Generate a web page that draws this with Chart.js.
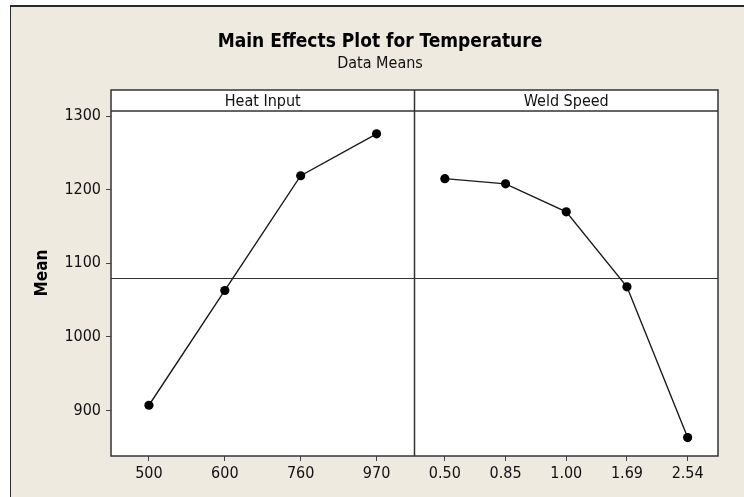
<!DOCTYPE html>
<html>
<head>
<meta charset="utf-8">
<script src="https://cdn.jsdelivr.net/npm/chart.js@4/dist/chart.umd.min.js"></script>
<style>
  html, body { margin: 0; padding: 0; background: #fff; }
  #frame {
    position: absolute; left: 10px; top: 5px; right: 0; bottom: 0;
    background: #eeeae0;
    border-top: 2px solid #2b2b2b;
    border-left: 1px solid #2b2b2b;
  }
  #wrap { position: absolute; left: 0; top: 0; width: 744px; height: 497px; }
</style>
</head>
<body>
<div id="frame"></div>
<div id="wrap"><canvas id="plot" width="744" height="497"></canvas></div>
<script>
const heatLevels = ['500', '600', '760', '970'];
const heatMeans = [907, 1063, 1219, 1276];
const speedLevels = ['0.50', '0.85', '1.00', '1.69', '2.54'];
const speedMeans = [1215, 1208, 1170, 1068, 863];
const panelTitles = ['Heat Input', 'Weld Speed'];
const yTicks = [900, 1000, 1100, 1200, 1300];
const grandMean = 1080;
const yLabel = 'Mean';

const FONT = "'DejaVu Sans Condensed', 'DejaVu Sans', sans-serif";
const STRIP = 21;

// panel frames, header strips, grand mean line and the y label
const panels = {
  id: 'panels',
  beforeDraw(chart) {
    const {ctx, chartArea: a} = chart;
    ctx.save();
    ctx.fillStyle = '#fff';
    ctx.fillRect(a.left, a.top - STRIP, a.right - a.left, a.bottom - a.top + STRIP);
    ctx.restore();
  },
  beforeDatasetsDraw(chart) {
    const {ctx, chartArea: a} = chart;
    const y = Math.round(chart.scales.y.getPixelForValue(grandMean)) + 0.5;
    ctx.save();
    ctx.strokeStyle = '#333';
    ctx.lineWidth = 1;
    ctx.beginPath();
    ctx.moveTo(a.left, y);
    ctx.lineTo(a.right, y);
    ctx.stroke();
    ctx.restore();
  },
  afterDatasetsDraw(chart) {
    const {ctx, chartArea: a} = chart;
    const xs = [chart.scales.xHeat, chart.scales.xSpeed];
    ctx.save();
    ctx.strokeStyle = '#333';
    ctx.lineWidth = 1.5;
    ctx.strokeRect(a.left, a.top - STRIP, a.right - a.left, a.bottom - a.top + STRIP);
    ctx.beginPath();
    ctx.moveTo(a.left, a.top);
    ctx.lineTo(a.right, a.top);
    ctx.moveTo(xs[1].left, a.top - STRIP);
    ctx.lineTo(xs[1].left, a.bottom);
    ctx.stroke();

    ctx.fillStyle = '#111';
    ctx.font = '16px ' + FONT;
    ctx.textAlign = 'center';
    ctx.textBaseline = 'middle';
    xs.forEach((s, i) => {
      ctx.fillText(panelTitles[i], (s.left + s.right) / 2, a.top - STRIP / 2 + 1);
    });

    // y label centred on the panel including its strip
    ctx.font = 'bold 17px ' + FONT;
    ctx.fillStyle = '#000';
    ctx.translate(43, (a.top - STRIP + a.bottom) / 2);
    ctx.rotate(-Math.PI / 2);
    ctx.fillText(yLabel, 0, 0);
    ctx.restore();
  }
};

const xAxis = (labels) => ({
  type: 'category',
  labels: labels,
  position: 'bottom',
  stack: 'panels',
  stackWeight: 1,
  offset: true,
  grid: { offset: false, drawOnChartArea: false, tickLength: 5, color: '#444', lineWidth: 1 },
  border: { display: false },
  ticks: {
    color: '#111', padding: 3, maxRotation: 0, minRotation: 0, autoSkip: false,
    font: { size: 16, family: FONT }
  },
  afterFit(s) { s.height = 41; }
});

new Chart(document.getElementById('plot'), {
  type: 'line',
  data: {
    datasets: [
      { data: heatMeans, xAxisID: 'xHeat', yAxisID: 'y' },
      { data: speedMeans, xAxisID: 'xSpeed', yAxisID: 'y' }
    ]
  },
  options: {
    responsive: false,
    animation: false,
    layout: { padding: { left: 42, right: 26, top: 0, bottom: 0 } },
    elements: {
      line: { borderColor: '#1a1a1a', borderWidth: 1.4, tension: 0 },
      point: { radius: 4.6, backgroundColor: '#000', borderColor: '#000', borderWidth: 0 }
    },
    plugins: {
      legend: { display: false },
      tooltip: { enabled: false },
      title: {
        display: true,
        text: 'Main Effects Plot for Temperature',
        color: '#000',
        font: { size: 19, weight: 'bold', family: FONT },
        padding: { top: 31, bottom: 0.5 }
      },
      subtitle: {
        display: true,
        text: 'Data Means',
        color: '#111',
        font: { size: 16, family: FONT },
        padding: { top: 0, bottom: 37.5 }
      }
    },
    scales: {
      xHeat: xAxis(heatLevels),
      xSpeed: xAxis(speedLevels),
      y: {
        type: 'linear',
        position: 'left',
        min: 838,
        max: 1307,
        afterBuildTicks(s) { s.ticks = yTicks.map(v => ({ value: v })); },
        afterFit(s) { s.width = 69; },
        grid: { drawOnChartArea: false, tickLength: 5, color: '#444', lineWidth: 1 },
        border: { display: false },
        ticks: {
          color: '#111', padding: 5,
          font: { size: 16, family: FONT },
          callback: v => String(v)
        }
      }
    }
  },
  plugins: [panels]
});
</script>
</body>
</html>
